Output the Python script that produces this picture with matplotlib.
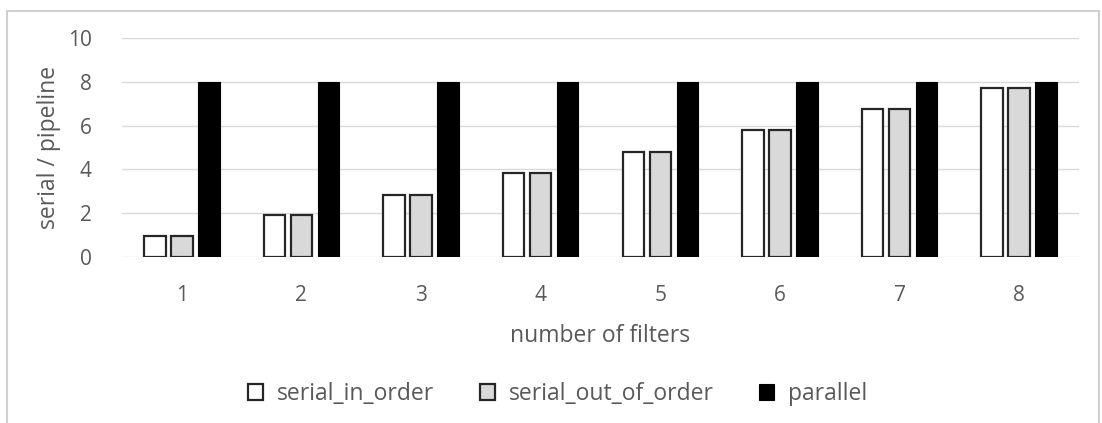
import matplotlib
matplotlib.use("Agg")
import matplotlib.pyplot as plt
from matplotlib.patches import Rectangle
import numpy as np

plt.rcParams['font.family'] = ['Open Sans', 'DejaVu Sans']

categories = ['1', '2', '3', '4', '5', '6', '7', '8']
serial_in_order = [0.98, 1.93, 2.84, 3.83, 4.81, 5.81, 6.76, 7.72]
serial_out_of_order = [0.98, 1.93, 2.84, 3.83, 4.81, 5.78, 6.76, 7.72]
parallel = [8, 8, 8, 8, 8, 8, 8, 8]

text_color = '#595959'
grid_color = '#d9d9d9'

fig = plt.figure(figsize=(11.02, 4.23), dpi=100)
ax = fig.add_axes([122 / 1102, 1 - 257.3 / 423, (1079 - 122) / 1102, (257.3 - 37.7) / 423])

x = np.arange(len(categories))
w = 0.18
step = 0.226
ax.bar(x - step, serial_in_order, w, color='white', edgecolor='#262626',
       linewidth=1.6, label='serial_in_order', zorder=3)
ax.bar(x, serial_out_of_order, w, color='#d9d9d9', edgecolor='#262626',
       linewidth=1.6, label='serial_out_of_order', zorder=3)
ax.bar(x + step, parallel, w, color='black', edgecolor='black',
       linewidth=0.8, label='parallel', zorder=3)

ax.set_xlim(-0.5, len(categories) - 0.5)
ax.set_ylim(0, 10)
ax.set_yticks([0, 2, 4, 6, 8, 10])
ax.set_xticks(x)
ax.set_xticklabels(categories)
ax.grid(axis='y', color=grid_color, linewidth=1.0, zorder=0)
ax.set_axisbelow(True)
for s in ax.spines.values():
    s.set_visible(False)
ax.tick_params(axis='both', length=0, labelsize=15, colors=text_color)
ax.tick_params(axis='y', pad=22)
ax.tick_params(axis='x', pad=20)

ax.set_ylabel('serial / pipeline', fontsize=16.5, color=text_color, labelpad=5)
ax.set_xlabel('number of filters', fontsize=16.5, color=text_color, labelpad=13)

handles, labels = ax.get_legend_handles_labels()
leg = fig.legend(handles, labels, loc='center', bbox_to_anchor=(0.506, 1 - 394 / 423),
                 ncol=3, frameon=False, fontsize=16.5, handlelength=0.65,
                 handleheight=0.65, handletextpad=0.6, columnspacing=2.0)
for t in leg.get_texts():
    t.set_color(text_color)

fig.patches.append(Rectangle((7 / 1102, -0.1), (1099 - 7) / 1102, 1.1 - 11 / 423,
                             transform=fig.transFigure, fill=False,
                             edgecolor='#d0d0d0', linewidth=1.5))

fig.savefig('out.png', dpi=100, facecolor='white')
